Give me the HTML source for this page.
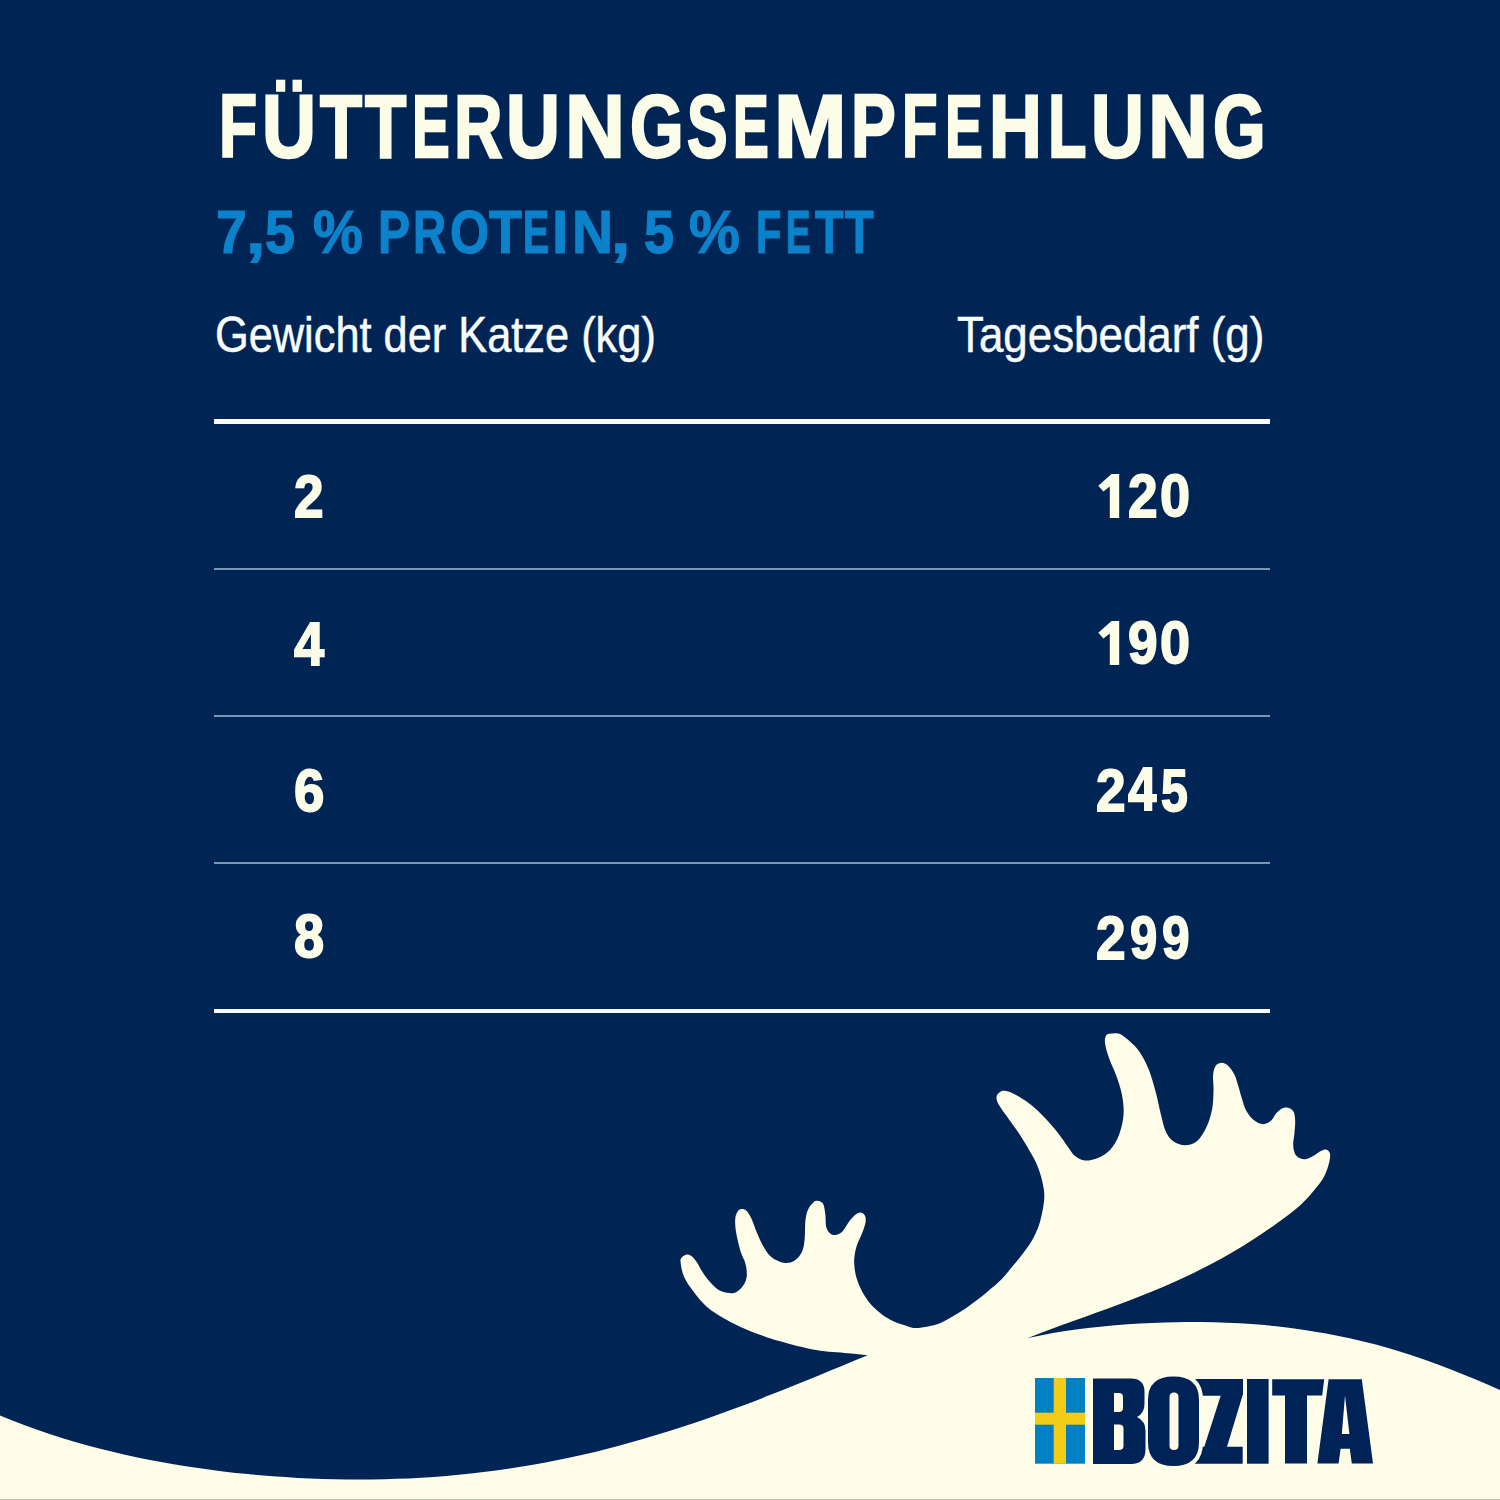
<!DOCTYPE html>
<html><head><meta charset="utf-8"><title>Fütterungsempfehlung</title>
<style>
html,body{margin:0;padding:0;}
body{width:1500px;height:1500px;overflow:hidden;background:#002454;position:relative;font-family:"Liberation Sans",sans-serif;}
.t{position:absolute;white-space:nowrap;transform-origin:0 0;}
.ln{position:absolute;left:214px;width:1056px;}
.art{position:absolute;left:0;top:0;}
</style></head>
<body>
<div class="t" style="left:219.31px;top:82.00px;font-size:89.4px;line-height:89.4px;font-weight:bold;color:#FBFDE9;-webkit-text-stroke:2.5px #FBFDE9;transform:scale(0.6979,1.0000)">F</div>
<div class="t" style="left:261.96px;top:82.00px;font-size:89.4px;line-height:89.4px;font-weight:bold;color:#FBFDE9;-webkit-text-stroke:2.5px #FBFDE9;transform:scale(0.8357,1.0000)">Ü</div>
<div class="t" style="left:319.90px;top:82.00px;font-size:89.4px;line-height:89.4px;font-weight:bold;color:#FBFDE9;-webkit-text-stroke:2.5px #FBFDE9;transform:scale(0.7709,1.0000)">T</div>
<div class="t" style="left:364.90px;top:82.00px;font-size:89.4px;line-height:89.4px;font-weight:bold;color:#FBFDE9;-webkit-text-stroke:2.5px #FBFDE9;transform:scale(0.7564,1.0000)">T</div>
<div class="t" style="left:412.04px;top:82.00px;font-size:89.4px;line-height:89.4px;font-weight:bold;color:#FBFDE9;-webkit-text-stroke:2.5px #FBFDE9;transform:scale(0.6327,1.0000)">E</div>
<div class="t" style="left:454.04px;top:82.00px;font-size:89.4px;line-height:89.4px;font-weight:bold;color:#FBFDE9;-webkit-text-stroke:2.5px #FBFDE9;transform:scale(0.7517,1.0000)">R</div>
<div class="t" style="left:506.46px;top:82.00px;font-size:89.4px;line-height:89.4px;font-weight:bold;color:#FBFDE9;-webkit-text-stroke:2.5px #FBFDE9;transform:scale(0.8357,1.0000)">U</div>
<div class="t" style="left:564.95px;top:82.00px;font-size:89.4px;line-height:89.4px;font-weight:bold;color:#FBFDE9;-webkit-text-stroke:2.5px #FBFDE9;transform:scale(0.9291,1.0000)">N</div>
<div class="t" style="left:629.56px;top:82.00px;font-size:89.4px;line-height:89.4px;font-weight:bold;color:#FBFDE9;-webkit-text-stroke:2.5px #FBFDE9;transform:scale(0.7714,1.0000)">G</div>
<div class="t" style="left:687.12px;top:82.00px;font-size:89.4px;line-height:89.4px;font-weight:bold;color:#FBFDE9;-webkit-text-stroke:2.5px #FBFDE9;transform:scale(0.6804,1.0000)">S</div>
<div class="t" style="left:733.30px;top:82.00px;font-size:89.4px;line-height:89.4px;font-weight:bold;color:#FBFDE9;-webkit-text-stroke:2.5px #FBFDE9;transform:scale(0.6000,1.0000)">E</div>
<div class="t" style="left:773.93px;top:82.00px;font-size:89.4px;line-height:89.4px;font-weight:bold;color:#FBFDE9;-webkit-text-stroke:2.5px #FBFDE9;transform:scale(0.9738,1.0000)">M</div>
<div class="t" style="left:851.35px;top:82.00px;font-size:89.4px;line-height:89.4px;font-weight:bold;color:#FBFDE9;-webkit-text-stroke:2.5px #FBFDE9;transform:scale(0.7509,1.0000)">P</div>
<div class="t" style="left:902.05px;top:82.00px;font-size:89.4px;line-height:89.4px;font-weight:bold;color:#FBFDE9;-webkit-text-stroke:2.5px #FBFDE9;transform:scale(0.6500,1.0000)">F</div>
<div class="t" style="left:945.04px;top:82.00px;font-size:89.4px;line-height:89.4px;font-weight:bold;color:#FBFDE9;-webkit-text-stroke:2.5px #FBFDE9;transform:scale(0.6327,1.0000)">E</div>
<div class="t" style="left:989.21px;top:82.00px;font-size:89.4px;line-height:89.4px;font-weight:bold;color:#FBFDE9;-webkit-text-stroke:2.5px #FBFDE9;transform:scale(0.8182,1.0000)">H</div>
<div class="t" style="left:1047.78px;top:82.00px;font-size:89.4px;line-height:89.4px;font-weight:bold;color:#FBFDE9;-webkit-text-stroke:2.5px #FBFDE9;transform:scale(0.7042,1.0000)">L</div>
<div class="t" style="left:1091.42px;top:82.00px;font-size:89.4px;line-height:89.4px;font-weight:bold;color:#FBFDE9;-webkit-text-stroke:2.5px #FBFDE9;transform:scale(0.8196,1.0000)">U</div>
<div class="t" style="left:1148.35px;top:82.00px;font-size:89.4px;line-height:89.4px;font-weight:bold;color:#FBFDE9;-webkit-text-stroke:2.5px #FBFDE9;transform:scale(0.9291,1.0000)">N</div>
<div class="t" style="left:1213.49px;top:82.00px;font-size:89.4px;line-height:89.4px;font-weight:bold;color:#FBFDE9;-webkit-text-stroke:2.5px #FBFDE9;transform:scale(0.7556,1.0000)">G</div>
<div class="t" style="left:214.75px;top:311.17px;font-size:49.6px;line-height:49.6px;font-weight:normal;color:#F8FCFC;-webkit-text-stroke:0.5px #F8FCFC;transform:scale(0.8740,0.9886)">Gewicht der Katze (kg)</div>
<div class="t" style="left:957.12px;top:311.17px;font-size:49.6px;line-height:49.6px;font-weight:normal;color:#F8FCFC;-webkit-text-stroke:0.5px #F8FCFC;transform:scale(0.8849,0.9886)">Tagesbedarf (g)</div>
<div class="t" style="left:293.81px;top:466.98px;font-size:60px;line-height:60px;font-weight:bold;color:#FBFDE9;-webkit-text-stroke:1.8px #FBFDE9;transform:scale(0.8871,1.0023)">2</div>
<div class="t" style="left:293.60px;top:612.56px;font-size:60px;line-height:60px;font-weight:bold;color:#FBFDE9;-webkit-text-stroke:1.8px #FBFDE9;transform:scale(0.9029,1.0302)">4</div>
<div class="t" style="left:293.79px;top:760.93px;font-size:60px;line-height:60px;font-weight:bold;color:#FBFDE9;-webkit-text-stroke:1.8px #FBFDE9;transform:scale(0.9097,0.9956)">6</div>
<div class="t" style="left:293.80px;top:907.35px;font-size:60px;line-height:60px;font-weight:bold;color:#FBFDE9;-webkit-text-stroke:1.8px #FBFDE9;transform:scale(0.9032,1.0067)">8</div>
<div class="t" style="left:1128.01px;top:466.55px;font-size:60px;line-height:60px;font-weight:bold;color:#FBFDE9;-webkit-text-stroke:1.8px #FBFDE9;transform:scale(0.8871,1.0068)">2</div>
<div class="t" style="left:1159.80px;top:466.71px;font-size:60px;line-height:60px;font-weight:bold;color:#FBFDE9;-webkit-text-stroke:1.8px #FBFDE9;transform:scale(0.9000,0.9844)">0</div>
<div class="t" style="left:1128.01px;top:613.91px;font-size:60px;line-height:60px;font-weight:bold;color:#FBFDE9;-webkit-text-stroke:1.8px #FBFDE9;transform:scale(0.8871,0.9844)">9</div>
<div class="t" style="left:1159.80px;top:613.91px;font-size:60px;line-height:60px;font-weight:bold;color:#FBFDE9;-webkit-text-stroke:1.8px #FBFDE9;transform:scale(0.9000,0.9844)">0</div>
<div class="t" style="left:1096.11px;top:760.80px;font-size:60px;line-height:60px;font-weight:bold;color:#FBFDE9;-webkit-text-stroke:1.8px #FBFDE9;transform:scale(0.8871,1.0000)">2</div>
<div class="t" style="left:1128.10px;top:760.44px;font-size:60px;line-height:60px;font-weight:bold;color:#FBFDE9;-webkit-text-stroke:1.8px #FBFDE9;transform:scale(0.8529,1.0070)">4</div>
<div class="t" style="left:1161.40px;top:760.50px;font-size:60px;line-height:60px;font-weight:bold;color:#FBFDE9;-webkit-text-stroke:1.8px #FBFDE9;transform:scale(0.8031,1.0000)">5</div>
<div class="t" style="left:1096.11px;top:907.59px;font-size:60px;line-height:60px;font-weight:bold;color:#FBFDE9;-webkit-text-stroke:1.8px #FBFDE9;transform:scale(0.8871,1.0159)">2</div>
<div class="t" style="left:1130.18px;top:907.75px;font-size:60px;line-height:60px;font-weight:bold;color:#FBFDE9;-webkit-text-stroke:1.8px #FBFDE9;transform:scale(0.8161,0.9933)">9</div>
<div class="t" style="left:1161.77px;top:907.75px;font-size:60px;line-height:60px;font-weight:bold;color:#FBFDE9;-webkit-text-stroke:1.8px #FBFDE9;transform:scale(0.8258,0.9933)">9</div>
<div class="t" style="left:216.31px;top:202.20px;font-size:62.2px;line-height:62.2px;font-weight:bold;color:#0C82CB;-webkit-text-stroke:1.2px #0C82CB;transform:scale(0.8935,0.9756)">7</div>
<div class="t" style="left:246.48px;top:202.20px;font-size:62.2px;line-height:62.2px;font-weight:bold;color:#0C82CB;-webkit-text-stroke:1.2px #0C82CB;transform:scale(1.1300,0.9756)">,</div>
<div class="t" style="left:264.83px;top:202.20px;font-size:62.2px;line-height:62.2px;font-weight:bold;color:#0C82CB;-webkit-text-stroke:1.2px #0C82CB;transform:scale(0.8688,0.9756)">5</div>
<div class="t" style="left:312.50px;top:202.20px;font-size:62.2px;line-height:62.2px;font-weight:bold;color:#0C82CB;-webkit-text-stroke:1.2px #0C82CB;transform:scale(0.9000,0.9756)">%</div>
<div class="t" style="left:377.78px;top:202.20px;font-size:62.2px;line-height:62.2px;font-weight:bold;color:#0C82CB;-webkit-text-stroke:1.2px #0C82CB;transform:scale(0.7730,0.9756)">P</div>
<div class="t" style="left:413.48px;top:202.20px;font-size:62.2px;line-height:62.2px;font-weight:bold;color:#0C82CB;-webkit-text-stroke:1.2px #0C82CB;transform:scale(0.7390,0.9756)">R</div>
<div class="t" style="left:449.58px;top:202.20px;font-size:62.2px;line-height:62.2px;font-weight:bold;color:#0C82CB;-webkit-text-stroke:1.2px #0C82CB;transform:scale(0.8091,0.9756)">O</div>
<div class="t" style="left:489.40px;top:202.20px;font-size:62.2px;line-height:62.2px;font-weight:bold;color:#0C82CB;-webkit-text-stroke:1.2px #0C82CB;transform:scale(0.8658,0.9756)">T</div>
<div class="t" style="left:523.00px;top:202.20px;font-size:62.2px;line-height:62.2px;font-weight:bold;color:#0C82CB;-webkit-text-stroke:1.2px #0C82CB;transform:scale(0.6324,0.9756)">E</div>
<div class="t" style="left:551.56px;top:202.20px;font-size:62.2px;line-height:62.2px;font-weight:bold;color:#0C82CB;-webkit-text-stroke:1.2px #0C82CB;transform:scale(0.9455,0.9756)">I</div>
<div class="t" style="left:571.56px;top:202.20px;font-size:62.2px;line-height:62.2px;font-weight:bold;color:#0C82CB;-webkit-text-stroke:1.2px #0C82CB;transform:scale(0.9132,0.9756)">N</div>
<div class="t" style="left:610.62px;top:202.20px;font-size:62.2px;line-height:62.2px;font-weight:bold;color:#0C82CB;-webkit-text-stroke:1.2px #0C82CB;transform:scale(1.1200,0.9756)">,</div>
<div class="t" style="left:643.63px;top:202.20px;font-size:62.2px;line-height:62.2px;font-weight:bold;color:#0C82CB;-webkit-text-stroke:1.2px #0C82CB;transform:scale(0.8687,0.9756)">5</div>
<div class="t" style="left:689.08px;top:202.20px;font-size:62.2px;line-height:62.2px;font-weight:bold;color:#0C82CB;-webkit-text-stroke:1.2px #0C82CB;transform:scale(0.9189,0.9756)">%</div>
<div class="t" style="left:756.00px;top:202.20px;font-size:62.2px;line-height:62.2px;font-weight:bold;color:#0C82CB;-webkit-text-stroke:1.2px #0C82CB;transform:scale(0.6667,0.9756)">F</div>
<div class="t" style="left:786.22px;top:202.20px;font-size:62.2px;line-height:62.2px;font-weight:bold;color:#0C82CB;-webkit-text-stroke:1.2px #0C82CB;transform:scale(0.5946,0.9756)">E</div>
<div class="t" style="left:814.70px;top:202.20px;font-size:62.2px;line-height:62.2px;font-weight:bold;color:#0C82CB;-webkit-text-stroke:1.2px #0C82CB;transform:scale(0.7526,0.9756)">T</div>
<div class="t" style="left:845.30px;top:202.20px;font-size:62.2px;line-height:62.2px;font-weight:bold;color:#0C82CB;-webkit-text-stroke:1.2px #0C82CB;transform:scale(0.7553,0.9756)">T</div>
<div class="ln" style="top:419px;height:4.6px;background:#F8FCFC"></div>
<div class="ln" style="top:568px;height:2px;background:#7897B5"></div>
<div class="ln" style="top:715px;height:2px;background:#7897B5"></div>
<div class="ln" style="top:862px;height:2px;background:#7897B5"></div>
<div class="ln" style="top:1008.8px;height:4.6px;background:#F8FCFC"></div>
<svg class="art" width="1500" height="1500" viewBox="0 0 1500 1500">
<path d="M0.0,1415.4 C8.3,1418.7 16.5,1422.2 24.8,1425.3 C33.1,1428.4 41.3,1431.2 49.6,1434.0 C57.8,1436.7 66.1,1439.3 74.4,1441.7 C82.6,1444.1 90.9,1446.4 99.2,1448.5 C107.4,1450.6 115.7,1452.6 124.0,1454.5 C132.2,1456.3 140.5,1458.0 148.7,1459.7 C157.0,1461.3 165.3,1462.8 173.5,1464.2 C181.8,1465.6 190.1,1466.9 198.3,1468.1 C206.6,1469.3 214.9,1470.4 223.1,1471.4 C231.4,1472.4 239.7,1473.3 247.9,1474.1 C256.2,1474.9 264.4,1475.6 272.7,1476.3 C281.0,1476.9 289.2,1477.4 297.5,1477.9 C305.8,1478.3 314.0,1478.7 322.3,1479.0 C330.6,1479.2 338.8,1479.4 347.1,1479.5 C355.3,1479.6 363.6,1479.6 371.9,1479.4 C380.1,1479.3 388.4,1479.1 396.7,1478.8 C404.9,1478.5 413.2,1478.2 421.5,1477.7 C429.7,1477.2 438.0,1476.6 446.2,1475.9 C454.5,1475.2 462.8,1474.4 471.0,1473.5 C479.3,1472.6 487.6,1471.6 495.8,1470.5 C504.1,1469.3 512.4,1468.1 520.6,1466.8 C528.9,1465.5 537.1,1464.0 545.4,1462.5 C553.7,1460.9 561.9,1459.3 570.2,1457.5 C578.5,1455.7 586.7,1453.8 595.0,1451.9 C603.3,1449.9 611.5,1447.8 619.8,1445.6 C628.0,1443.4 636.3,1441.0 644.6,1438.6 C652.8,1436.2 661.1,1433.7 669.4,1431.1 C677.6,1428.5 685.9,1425.8 694.2,1423.0 C702.4,1420.2 710.7,1417.3 719.0,1414.3 C727.2,1411.4 735.5,1408.3 743.7,1405.2 C752.0,1402.1 760.3,1398.9 768.5,1395.6 C776.8,1392.4 785.1,1389.1 793.3,1385.8 C801.6,1382.5 809.9,1379.1 818.1,1375.7 C826.4,1372.3 834.6,1368.9 842.9,1365.5 C851.2,1362.1 859.4,1358.7 867.7,1355.3 C861.1,1354.6 856.6,1354.2 848.0,1353.3 C839.4,1352.4 827.3,1352.1 816.0,1350.1 C804.7,1348.1 789.3,1343.9 780.0,1341.3 C770.7,1338.7 766.7,1337.1 760.0,1334.7 C753.3,1332.3 746.1,1329.5 740.0,1326.7 C733.9,1323.9 728.8,1321.3 723.3,1318.0 C717.8,1314.7 711.7,1311.2 706.7,1306.7 C701.7,1302.2 697.1,1296.3 693.3,1291.3 C689.5,1286.3 686.1,1281.4 684.0,1276.7 C681.9,1272.0 681.2,1266.4 680.7,1263.3 C680.2,1260.2 680.4,1259.4 681.3,1258.0 C682.2,1256.6 684.3,1255.0 686.0,1254.7 C687.7,1254.4 689.5,1254.8 691.3,1256.0 C693.1,1257.2 694.9,1259.5 696.7,1262.0 C698.5,1264.5 699.8,1268.0 702.0,1271.3 C704.2,1274.6 707.2,1278.9 710.0,1282.0 C712.8,1285.1 715.9,1288.2 718.7,1290.0 C721.5,1291.8 724.0,1292.2 726.7,1292.7 C729.4,1293.2 732.3,1293.5 734.7,1292.7 C737.1,1291.9 739.4,1290.1 741.3,1288.0 C743.2,1285.9 745.1,1282.8 746.0,1280.0 C746.9,1277.2 746.9,1274.4 746.7,1271.3 C746.5,1268.2 745.7,1264.6 744.7,1261.3 C743.7,1258.0 742.2,1256.6 740.7,1251.7 C739.2,1246.8 736.9,1237.3 736.0,1231.7 C735.1,1226.1 735.0,1221.8 735.3,1218.3 C735.6,1214.8 736.9,1212.5 738.0,1211.0 C739.1,1209.5 740.5,1209.0 742.0,1209.0 C743.5,1209.0 745.2,1209.5 746.7,1211.0 C748.2,1212.5 749.6,1214.8 751.3,1218.3 C753.0,1221.8 754.7,1227.6 756.7,1232.3 C758.7,1237.0 760.9,1242.2 763.3,1246.3 C765.7,1250.4 768.0,1254.3 771.3,1257.0 C774.6,1259.7 779.5,1262.0 783.3,1262.7 C787.1,1263.4 790.9,1262.8 794.0,1261.0 C797.1,1259.2 800.2,1255.5 802.0,1251.7 C803.8,1247.9 804.2,1243.3 804.7,1238.3 C805.2,1233.3 804.8,1226.5 805.3,1221.7 C805.8,1216.9 806.5,1213.0 808.0,1209.7 C809.5,1206.4 812.2,1203.2 814.0,1201.7 C815.8,1200.2 817.2,1200.6 818.7,1201.0 C820.2,1201.4 822.2,1202.0 823.3,1204.3 C824.4,1206.6 824.9,1211.2 825.4,1215.0 C825.9,1218.8 825.4,1223.9 826.2,1227.0 C827.0,1230.1 828.6,1232.1 830.2,1233.4 C831.8,1234.7 833.8,1235.3 835.8,1235.0 C837.8,1234.7 840.1,1233.9 842.2,1231.8 C844.3,1229.7 846.5,1225.0 848.6,1222.2 C850.7,1219.4 853.0,1216.6 855.0,1215.0 C857.0,1213.4 858.9,1212.5 860.6,1212.6 C862.3,1212.7 864.2,1214.1 865.0,1215.8 C865.8,1217.5 866.0,1219.8 865.4,1223.0 C864.8,1226.2 862.9,1231.1 861.4,1235.0 C859.9,1238.9 857.8,1242.2 856.6,1246.2 C855.4,1250.2 854.5,1254.9 854.2,1259.0 C853.9,1263.1 854.5,1267.5 855.0,1271.0 C855.5,1274.5 856.3,1277.2 857.2,1280.0 C858.1,1282.8 859.1,1285.2 860.4,1288.0 C861.7,1290.8 863.2,1293.8 865.2,1296.8 C867.2,1299.8 869.6,1303.1 872.4,1306.0 C875.2,1308.9 878.4,1311.8 882.0,1314.4 C885.6,1317.0 889.7,1319.6 894.0,1321.6 C898.3,1323.6 904.3,1325.3 908.0,1326.4 C911.7,1327.5 912.7,1328.0 916.0,1328.0 C919.3,1328.0 924.0,1327.2 928.0,1326.4 C932.0,1325.6 936.0,1324.8 940.0,1323.2 C944.0,1321.6 948.0,1319.1 952.0,1316.8 C956.0,1314.5 960.0,1312.3 964.0,1309.6 C968.0,1306.9 972.0,1303.9 976.0,1300.8 C980.0,1297.7 984.0,1294.5 988.0,1291.2 C992.0,1287.9 996.8,1283.9 1000.0,1280.8 C1003.2,1277.7 1003.5,1277.2 1007.3,1272.7 C1011.1,1268.2 1018.6,1259.4 1022.9,1253.6 C1027.2,1247.8 1030.4,1243.5 1033.3,1238.0 C1036.2,1232.5 1038.5,1227.2 1040.3,1220.7 C1042.1,1214.2 1043.8,1205.1 1044.2,1199.0 C1044.6,1192.9 1043.9,1189.3 1042.9,1184.3 C1042.0,1179.2 1040.3,1173.6 1038.5,1168.7 C1036.7,1163.8 1035.1,1160.6 1032.0,1155.0 C1028.9,1149.4 1024.0,1141.2 1020.0,1135.0 C1016.0,1128.8 1011.5,1123.0 1008.0,1118.0 C1004.5,1113.0 1000.9,1108.5 999.0,1105.0 C997.1,1101.5 996.3,1099.2 996.5,1097.0 C996.7,1094.8 998.4,1093.0 1000.0,1092.0 C1001.6,1091.0 1003.3,1090.5 1006.0,1091.0 C1008.7,1091.5 1012.0,1092.8 1016.0,1095.0 C1020.0,1097.2 1025.2,1100.2 1030.0,1104.0 C1034.8,1107.8 1040.3,1113.2 1045.0,1118.0 C1049.7,1122.8 1054.2,1128.2 1058.0,1133.0 C1061.8,1137.8 1065.2,1143.2 1068.0,1147.0 C1070.8,1150.8 1072.2,1153.8 1075.0,1156.0 C1077.8,1158.2 1081.2,1160.2 1085.0,1160.5 C1088.8,1160.8 1093.8,1159.8 1098.0,1158.0 C1102.2,1156.2 1106.5,1153.8 1110.0,1150.0 C1113.5,1146.2 1116.8,1140.8 1119.0,1135.0 C1121.2,1129.2 1123.0,1121.7 1123.5,1115.0 C1124.0,1108.3 1123.2,1101.7 1122.0,1095.0 C1120.8,1088.3 1118.2,1081.2 1116.0,1075.0 C1113.8,1068.8 1110.8,1063.3 1109.0,1058.0 C1107.2,1052.7 1105.4,1046.8 1105.0,1043.0 C1104.6,1039.2 1105.2,1036.6 1106.5,1035.0 C1107.8,1033.4 1110.8,1033.7 1113.0,1033.5 C1115.2,1033.3 1117.2,1032.7 1120.0,1034.0 C1122.8,1035.3 1126.8,1038.6 1130.0,1041.5 C1133.2,1044.4 1136.2,1046.9 1139.3,1051.5 C1142.4,1056.1 1145.9,1062.2 1148.7,1069.2 C1151.5,1076.2 1154.1,1086.0 1156.1,1093.5 C1158.1,1101.0 1159.2,1107.8 1160.8,1114.0 C1162.4,1120.2 1163.5,1126.3 1165.5,1130.8 C1167.5,1135.3 1169.6,1138.7 1172.9,1141.1 C1176.2,1143.5 1181.0,1145.3 1185.1,1145.3 C1189.1,1145.3 1193.6,1144.1 1197.2,1141.1 C1200.8,1138.1 1204.0,1132.4 1206.5,1127.1 C1209.0,1121.8 1210.9,1115.4 1212.1,1109.3 C1213.3,1103.2 1213.3,1096.5 1213.5,1090.7 C1213.7,1085.0 1212.7,1079.0 1213.1,1074.8 C1213.5,1070.6 1214.4,1067.5 1215.9,1065.5 C1217.5,1063.5 1220.2,1062.5 1222.4,1062.7 C1224.6,1062.9 1226.9,1064.4 1228.9,1066.4 C1230.9,1068.4 1232.9,1071.5 1234.5,1074.8 C1236.1,1078.1 1237.1,1082.2 1238.3,1086.0 C1239.5,1089.8 1240.2,1093.2 1241.6,1097.4 C1242.9,1101.6 1244.3,1107.1 1246.4,1111.0 C1248.5,1114.9 1251.6,1118.4 1254.4,1120.6 C1257.2,1122.8 1260.4,1124.2 1263.2,1124.2 C1266.0,1124.2 1269.1,1122.4 1271.2,1120.6 C1273.3,1118.8 1274.1,1115.5 1276.0,1113.4 C1277.9,1111.3 1280.4,1109.1 1282.4,1108.2 C1284.4,1107.3 1286.1,1107.2 1288.0,1107.8 C1289.9,1108.4 1292.4,1109.5 1293.6,1111.8 C1294.8,1114.1 1295.1,1117.8 1295.2,1121.4 C1295.3,1125.0 1294.7,1129.5 1294.4,1133.4 C1294.1,1137.3 1293.1,1141.1 1293.2,1144.6 C1293.3,1148.1 1293.9,1151.9 1295.2,1154.2 C1296.5,1156.5 1298.9,1157.8 1300.8,1158.6 C1302.7,1159.4 1304.3,1159.5 1306.4,1159.0 C1308.5,1158.5 1311.2,1157.1 1313.6,1155.8 C1316.0,1154.5 1318.7,1152.0 1320.8,1151.0 C1322.9,1150.0 1324.5,1149.3 1326.0,1149.6 C1327.5,1149.9 1328.9,1151.2 1329.6,1152.6 C1330.3,1154.0 1330.3,1155.7 1330.0,1158.0 C1329.7,1160.3 1329.1,1163.4 1328.0,1166.7 C1326.9,1170.0 1325.8,1173.9 1323.3,1178.0 C1320.8,1182.1 1317.2,1186.7 1313.3,1191.3 C1309.4,1195.9 1306.0,1200.1 1300.0,1205.4 C1294.0,1210.7 1284.9,1217.4 1277.3,1223.0 C1269.8,1228.5 1262.2,1233.7 1254.7,1238.6 C1247.1,1243.5 1239.6,1248.2 1232.0,1252.6 C1224.4,1257.0 1216.9,1261.1 1209.3,1265.0 C1201.8,1269.0 1194.2,1272.7 1186.7,1276.2 C1179.1,1279.8 1171.6,1283.1 1164.0,1286.4 C1156.4,1289.6 1148.9,1292.7 1141.3,1295.7 C1133.8,1298.7 1126.2,1301.6 1118.7,1304.5 C1111.1,1307.3 1103.6,1310.1 1096.0,1312.8 C1088.4,1315.6 1080.9,1318.3 1073.3,1321.1 C1065.8,1323.8 1058.2,1326.5 1050.7,1329.3 C1043.1,1332.2 1035.6,1335.1 1028.0,1338.0 C1036.3,1336.4 1044.6,1334.6 1052.8,1333.1 C1061.1,1331.7 1069.4,1330.4 1077.7,1329.3 C1086.0,1328.2 1094.2,1327.3 1102.5,1326.4 C1110.8,1325.6 1119.1,1324.9 1127.4,1324.3 C1135.6,1323.7 1143.9,1323.3 1152.2,1322.9 C1160.5,1322.6 1168.8,1322.3 1177.1,1322.2 C1185.3,1322.0 1193.6,1322.0 1201.9,1322.1 C1210.2,1322.2 1218.5,1322.4 1226.7,1322.7 C1235.0,1323.1 1243.3,1323.5 1251.6,1324.1 C1259.9,1324.7 1268.1,1325.4 1276.4,1326.3 C1284.7,1327.2 1293.0,1328.2 1301.3,1329.4 C1309.5,1330.6 1317.8,1331.9 1326.1,1333.4 C1334.4,1335.0 1342.7,1336.6 1350.9,1338.5 C1359.2,1340.4 1367.5,1342.4 1375.8,1344.6 C1384.1,1346.8 1392.4,1349.2 1400.6,1351.8 C1408.9,1354.4 1417.2,1357.1 1425.5,1360.0 C1433.8,1362.9 1442.0,1366.0 1450.3,1369.2 C1458.6,1372.4 1466.9,1375.8 1475.2,1379.2 C1483.4,1382.7 1491.7,1386.4 1500.0,1389.9 L1500,1500 L0,1500 Z" fill="#FFFCE8"/>
<g>
<rect x="1035" y="1378" width="50" height="85.7" fill="#0280C6"/>
<rect x="1053.7" y="1378" width="12.3" height="85.7" fill="#F3CD15"/>
<rect x="1035" y="1412.7" width="50" height="12" fill="#F3CD15"/>
<path fill="#002357" d="M1190,1379 H1243 V1394 L1227,1446.7 H1242.7 V1463.7 H1190 Z"/>
<path fill="#FFFCE8" d="M1203.7,1395.7 H1220.7 L1204.3,1446.7 H1190 V1395.7 Z"/>
<path fill="none" stroke="#FFFCE8" stroke-width="8" d="M1148,1400 Q1148,1376.5 1173.5,1376.5 Q1199,1376.5 1199,1400 V1442 Q1199,1466 1173.5,1466 Q1148,1466 1148,1442 Z"/>
<path fill="#002357" fill-rule="evenodd" d="M1148,1400 Q1148,1376.5 1173.5,1376.5 Q1199,1376.5 1199,1400 V1442 Q1199,1466 1173.5,1466 Q1148,1466 1148,1442 Z
 M1169.5,1397 Q1169.5,1392.5 1174,1392.5 Q1178.5,1392.5 1178.5,1397 V1445.5 Q1178.5,1450 1174,1450 Q1169.5,1450 1169.5,1445.5 Z"/>
<path fill="#002357" fill-rule="evenodd" d="M1093,1378.5 H1131 Q1144.5,1378.5 1144.5,1392 V1404 Q1144.5,1413 1137,1417 Q1145.5,1421 1145.5,1431 V1449 Q1145.5,1464 1131,1464 H1093 Z
 M1114,1393 V1412 H1119 Q1123,1412 1123,1408 V1397 Q1123,1393 1119,1393 Z
 M1114,1424.5 V1450 H1119 Q1123.5,1450 1123.5,1446 V1428.5 Q1123.5,1424.5 1119,1424.5 Z"/>
<rect x="1247" y="1379" width="21.6" height="84.7" fill="#002357"/>
<path fill="#002357" d="M1272.2,1379.2 H1324.2 L1322.2,1395.6 H1307 V1463.6 H1285 V1395.6 H1272.2 Z"/>
<path fill="#002357" fill-rule="evenodd" d="M1328.6,1379.2 H1361.8 L1373,1463.6 H1351.8 L1349.8,1448.8 H1340.6 L1338.6,1463.6 H1317.4 Z M1345,1395.6 L1349.4,1434 H1341.8 Z"/>
</g>
<path fill="#FBFDE9" d="M1111.5,473.9 H1119.2 V517.9 H1109.8 V486.5 L1103.4,491.5 L1098.3,485.8 Z"/>
<path fill="#FBFDE9" d="M1111.5,620.9 H1119.2 V665.1 H1109.8 V633.5 L1103.4,638.5 L1098.3,632.8 Z"/>
<rect x="0" y="1499" width="1500" height="1" fill="#C4C2B4"/>
</svg>
</body></html>
